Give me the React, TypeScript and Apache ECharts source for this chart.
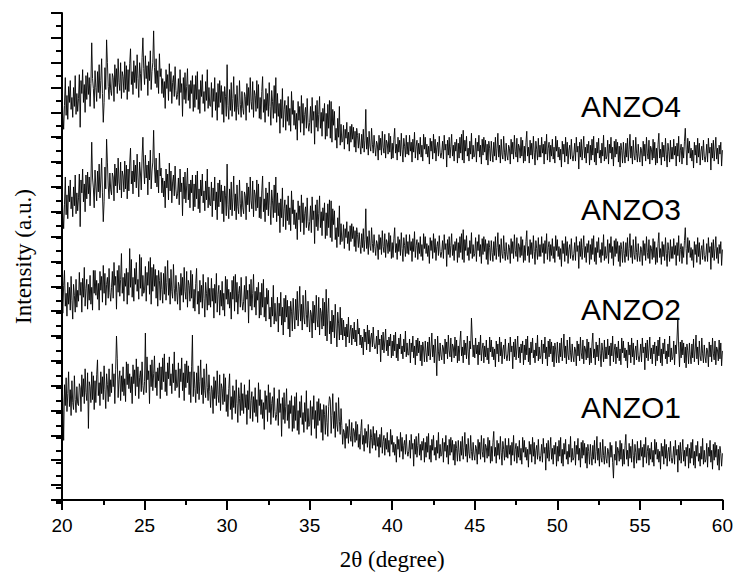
import { useEffect, useRef } from "react";
import * as echarts from "echarts";

// Scan grid of the diffractometer (2θ in degrees)
const scanStart = 20;
const scanStep = 0.05;

// x axis ticks
const xMin = 20;
const xMax = 60;
const xInterval = 5;

const seriesNames = ["ANZO1", "ANZO2", "ANZO3", "ANZO4"];
// vertical stacking offsets (a.u.) used to separate the patterns
const stackOffsets = [0, 100, 200, 300];

// Intensities (a.u.), one value per 0.05° from 20° to 60° (one row per degree)
const anzo1 = [
  117, 100, 60, 116, 95, 123, 89, 107, 129, 94, 111, 85, 120, 98, 91, 125, 101, 88, 114, 97,
  95, 117, 113, 89, 126, 104, 122, 97, 132, 108, 100, 128, 72, 119, 114, 98, 129, 101, 125, 91,
  120, 98, 126, 141, 105, 118, 95, 129, 107, 124, 101, 135, 111, 92, 127, 116, 99, 132, 104, 121,
  108, 137, 114, 127, 97, 131, 165, 142, 103, 121, 130, 100, 125, 109, 134, 105, 122, 99, 139, 116,
  137, 112, 127, 108, 124, 97, 136, 117, 131, 105, 142, 114, 134, 102, 123, 130, 109, 139, 115, 106,
  119, 168, 108, 144, 121, 130, 97, 136, 114, 141, 110, 127, 145, 113, 129, 105, 133, 120, 138, 102,
  134, 111, 143, 119, 147, 109, 129, 105, 138, 122, 144, 115, 127, 107, 137, 118, 149, 110, 131, 113,
  114, 138, 103, 132, 119, 143, 110, 128, 100, 137, 113, 140, 118, 135, 106, 129, 98, 134, 166, 104,
  129, 112, 98, 128, 107, 135, 101, 119, 141, 106, 123, 97, 132, 110, 103, 137, 113, 100, 126, 109,
  93, 115, 111, 87, 124, 102, 120, 95, 130, 106, 98, 126, 90, 117, 112, 96, 127, 99, 123, 89,
  106, 84, 112, 127, 91, 104, 81, 115, 93, 110, 87, 121, 97, 78, 113, 102, 85, 118, 90, 107,
  87, 116, 93, 106, 76, 110, 91, 121, 82, 100, 109, 79, 104, 88, 113, 84, 101, 78, 118, 95,
  111, 86, 101, 82, 98, 71, 110, 91, 105, 79, 116, 88, 108, 76, 97, 104, 83, 113, 89, 80,
  86, 102, 75, 111, 88, 97, 64, 103, 81, 108, 77, 94, 112, 80, 96, 72, 100, 87, 105, 69,
  95, 72, 104, 80, 108, 70, 90, 66, 99, 83, 105, 76, 88, 68, 98, 79, 110, 71, 92, 74,
  76, 100, 65, 94, 81, 105, 72, 90, 62, 99, 75, 102, 80, 97, 68, 91, 60, 96, 86, 66,
  95, 78, 64, 94, 104, 101, 67, 85, 107, 72, 89, 63, 98, 76, 69, 103, 79, 66, 92, 75,
  56, 71, 68, 52, 77, 62, 74, 57, 81, 65, 59, 78, 54, 72, 69, 58, 79, 60, 76, 53,
  66, 51, 70, 81, 56, 65, 49, 72, 57, 69, 53, 76, 60, 47, 71, 63, 52, 74, 55, 67,
  50, 70, 54, 63, 43, 66, 53, 73, 47, 59, 65, 45, 62, 51, 68, 48, 60, 44, 71, 56,
  65, 48, 58, 45, 56, 38, 64, 51, 61, 43, 68, 49, 63, 41, 55, 60, 46, 66, 50, 44,
  49, 60, 42, 66, 51, 57, 34, 61, 46, 64, 43, 55, 67, 45, 56, 40, 59, 50, 62, 38,
  58, 43, 64, 48, 67, 41, 55, 38, 61, 50, 65, 45, 53, 40, 60, 47, 68, 42, 56, 44,
  46, 62, 38, 58, 49, 65, 43, 55, 36, 61, 45, 63, 48, 60, 40, 56, 35, 59, 52, 39,
  60, 48, 39, 59, 45, 64, 41, 53, 68, 44, 56, 38, 62, 47, 42, 65, 49, 40, 58, 46,
  40, 55, 52, 36, 61, 46, 58, 41, 65, 49, 43, 62, 38, 56, 53, 42, 63, 44, 60, 37,
  54, 39, 58, 69, 44, 53, 37, 60, 45, 57, 41, 64, 48, 35, 59, 51, 40, 62, 43, 55,
  42, 62, 46, 55, 35, 58, 45, 65, 39, 51, 57, 37, 54, 43, 60, 40, 52, 36, 63, 48,
  60, 43, 53, 40, 51, 33, 59, 46, 56, 38, 63, 44, 58, 36, 50, 55, 41, 61, 45, 39,
  45, 56, 38, 62, 47, 53, 30, 57, 42, 60, 39, 51, 63, 41, 52, 36, 55, 46, 58, 34,
  54, 39, 60, 44, 63, 37, 51, 34, 57, 46, 61, 41, 49, 36, 56, 43, 64, 38, 52, 40,
  43, 59, 35, 55, 46, 62, 40, 52, 33, 58, 42, 60, 45, 57, 37, 53, 32, 56, 49, 36,
  56, 44, 35, 55, 41, 60, 37, 49, 64, 40, 52, 34, 58, 43, 38, 61, 45, 36, 54, 42,
  37, 52, 49, 33, 58, 43, 55, 38, 22, 46, 40, 59, 35, 53, 50, 39, 60, 41, 57, 34,
  51, 36, 55, 66, 41, 50, 34, 57, 42, 54, 38, 61, 45, 32, 56, 48, 37, 59, 40, 52,
  40, 60, 44, 53, 33, 56, 43, 63, 37, 49, 55, 35, 52, 41, 58, 38, 50, 34, 61, 46,
  58, 41, 51, 38, 49, 31, 57, 44, 54, 36, 61, 42, 56, 34, 48, 53, 39, 59, 43, 37,
  43, 54, 36, 60, 45, 51, 28, 55, 40, 58, 37, 49, 61, 39, 50, 34, 53, 44, 56, 32,
  52, 37, 58, 42, 61, 35, 49, 32, 55, 44, 59, 39, 47, 34, 54, 41, 62, 36, 50, 38,
  41, 57, 33, 53, 44, 60, 38, 50, 31, 56, 40, 58, 43, 55, 35, 51, 30, 54, 47, 34,
  47,
];

const anzo2 = [
  110, 88, 116, 131, 95, 108, 85, 119, 97, 114, 91, 125, 101, 82, 117, 106, 89, 122, 94, 111,
  100, 129, 106, 119, 89, 123, 104, 134, 95, 113, 122, 92, 117, 101, 126, 97, 114, 91, 131, 108,
  131, 106, 121, 102, 118, 91, 130, 111, 125, 99, 136, 108, 128, 96, 117, 124, 103, 133, 109, 100,
  114, 130, 103, 139, 116, 125, 92, 131, 109, 136, 105, 122, 148, 108, 124, 100, 128, 115, 133, 97,
  129, 106, 153, 114, 142, 104, 124, 100, 133, 117, 139, 110, 122, 102, 147, 113, 144, 105, 126, 108,
  111, 135, 100, 129, 116, 140, 107, 144, 97, 134, 110, 137, 115, 132, 103, 126, 95, 131, 121, 101,
  129, 112, 98, 128, 107, 135, 101, 119, 141, 106, 123, 97, 132, 110, 103, 137, 113, 100, 126, 109,
  97, 119, 115, 91, 128, 106, 124, 99, 134, 110, 102, 130, 94, 121, 116, 100, 131, 103, 127, 93,
  112, 90, 118, 133, 97, 110, 87, 121, 99, 116, 93, 127, 103, 84, 119, 108, 91, 124, 96, 113,
  94, 123, 100, 113, 83, 117, 98, 128, 89, 107, 116, 86, 111, 95, 120, 91, 108, 85, 125, 102,
  122, 97, 112, 93, 109, 82, 121, 102, 125, 90, 127, 99, 119, 87, 108, 115, 94, 124, 100, 91,
  100, 116, 89, 125, 102, 111, 78, 117, 95, 122, 91, 108, 127, 94, 110, 86, 114, 101, 119, 83,
  109, 86, 118, 94, 122, 84, 104, 80, 113, 97, 111, 82, 94, 74, 104, 85, 116, 77, 98, 80,
  80, 104, 69, 98, 85, 109, 76, 94, 66, 103, 79, 106, 84, 101, 72, 95, 64, 100, 90, 70,
  103, 86, 72, 102, 81, 110, 75, 93, 115, 80, 97, 71, 106, 84, 77, 111, 87, 74, 100, 83,
  69, 91, 87, 63, 100, 78, 96, 71, 106, 82, 74, 104, 66, 93, 88, 72, 103, 75, 99, 65,
  112, 60, 88, 103, 67, 80, 57, 91, 69, 86, 63, 97, 73, 54, 89, 78, 61, 94, 66, 83,
  61, 81, 65, 74, 54, 77, 64, 84, 58, 70, 76, 56, 73, 62, 79, 59, 71, 55, 82, 67,
  73, 56, 66, 53, 64, 46, 72, 59, 69, 51, 76, 57, 71, 49, 63, 68, 54, 74, 58, 52,
  54, 65, 47, 71, 56, 62, 39, 66, 51, 69, 48, 60, 72, 50, 61, 45, 64, 55, 67, 43,
  60, 45, 66, 50, 69, 43, 57, 40, 63, 52, 67, 47, 55, 42, 62, 49, 70, 44, 58, 46,
  46, 62, 38, 58, 49, 65, 43, 55, 36, 61, 45, 63, 48, 60, 40, 56, 35, 59, 52, 39,
  60, 48, 39, 59, 45, 64, 41, 53, 68, 44, 56, 38, 62, 47, 25, 65, 49, 40, 58, 46,
  41, 56, 53, 37, 62, 47, 59, 42, 66, 50, 44, 63, 39, 57, 54, 43, 64, 45, 61, 38,
  55, 40, 59, 70, 45, 54, 38, 61, 46, 58, 42, 65, 49, 36, 60, 52, 83, 63, 44, 56,
  43, 63, 47, 56, 36, 59, 46, 66, 40, 52, 58, 38, 55, 44, 61, 41, 53, 37, 64, 49,
  61, 44, 54, 41, 52, 34, 60, 47, 57, 39, 64, 45, 59, 37, 51, 56, 42, 62, 46, 40,
  47, 58, 40, 64, 49, 55, 32, 59, 44, 62, 41, 53, 65, 43, 54, 38, 57, 48, 60, 36,
  56, 41, 62, 46, 65, 39, 53, 36, 59, 48, 63, 43, 51, 38, 58, 45, 66, 40, 54, 42,
  45, 61, 37, 57, 48, 64, 42, 54, 35, 60, 44, 62, 47, 59, 39, 55, 34, 58, 51, 38,
  59, 47, 38, 58, 44, 63, 40, 52, 67, 43, 55, 37, 61, 46, 41, 64, 48, 39, 57, 45,
  39, 54, 51, 35, 60, 45, 57, 40, 64, 48, 42, 61, 37, 55, 52, 41, 62, 43, 59, 36,
  53, 38, 57, 68, 43, 52, 36, 59, 44, 56, 40, 63, 47, 34, 58, 50, 39, 61, 42, 54,
  42, 62, 46, 55, 35, 58, 45, 65, 39, 51, 57, 37, 54, 43, 60, 40, 52, 36, 63, 48,
  60, 43, 53, 40, 51, 33, 59, 46, 56, 38, 63, 44, 58, 36, 50, 55, 41, 61, 45, 39,
  46, 57, 39, 63, 48, 54, 31, 58, 43, 61, 40, 52, 64, 42, 53, 37, 56, 47, 59, 35,
  55, 40, 61, 45, 64, 38, 52, 35, 58, 47, 62, 42, 50, 37, 57, 44, 65, 39, 53, 41,
  44, 60, 36, 56, 47, 63, 83, 53, 34, 59, 43, 61, 46, 58, 38, 54, 33, 57, 50, 37,
  58, 46, 37, 57, 43, 62, 39, 51, 66, 42, 54, 36, 60, 45, 40, 63, 47, 38, 56, 44,
  38, 53, 50, 34, 59, 44, 56, 39, 63, 47, 41, 60, 36, 54, 51, 40, 61, 42, 58, 35,
  50,
];

const anzo4 = [
  112, 89, 73, 97, 125, 87, 107, 83, 116, 100, 122, 93, 105, 85, 115, 96, 127, 88, 109, 91,
  104, 128, 75, 122, 109, 133, 100, 118, 90, 127, 103, 130, 108, 125, 96, 119, 160, 124, 114, 94,
  132, 115, 101, 131, 110, 138, 104, 122, 144, 109, 80, 100, 135, 113, 163, 140, 116, 103, 129, 112,
  107, 129, 125, 101, 138, 116, 134, 109, 144, 120, 112, 140, 104, 131, 126, 110, 141, 113, 137, 103,
  133, 111, 139, 154, 118, 131, 108, 142, 120, 137, 114, 148, 124, 105, 140, 129, 112, 145, 165, 134,
  118, 147, 124, 137, 107, 141, 122, 152, 113, 131, 140, 172, 135, 119, 144, 115, 132, 109, 149, 126,
  134, 109, 124, 105, 121, 94, 133, 114, 128, 102, 139, 111, 131, 99, 120, 127, 106, 136, 112, 103,
  108, 124, 97, 133, 110, 119, 86, 125, 103, 130, 99, 116, 134, 102, 118, 94, 122, 109, 127, 91,
  118, 95, 127, 103, 131, 93, 113, 89, 122, 106, 128, 99, 111, 91, 121, 102, 133, 94, 115, 97,
  96, 120, 85, 114, 101, 125, 92, 110, 82, 119, 95, 122, 100, 117, 88, 111, 80, 116, 106, 86,
  138, 97, 83, 113, 92, 120, 86, 104, 126, 91, 108, 82, 117, 95, 88, 122, 98, 85, 111, 94,
  88, 110, 106, 82, 119, 97, 115, 90, 125, 101, 93, 121, 85, 112, 107, 91, 122, 94, 118, 84,
  105, 83, 111, 126, 90, 103, 80, 114, 92, 109, 86, 120, 96, 77, 112, 101, 84, 117, 89, 125,
  80, 109, 86, 99, 69, 103, 84, 114, 75, 93, 102, 72, 97, 81, 106, 77, 94, 71, 111, 88,
  102, 77, 92, 73, 89, 62, 101, 82, 96, 70, 107, 79, 99, 67, 88, 95, 74, 104, 80, 71,
  80, 96, 69, 105, 82, 91, 58, 97, 75, 102, 71, 88, 106, 74, 90, 66, 94, 81, 99, 63,
  89, 66, 98, 74, 102, 64, 101, 60, 93, 77, 91, 62, 74, 54, 84, 65, 96, 57, 78, 60,
  61, 77, 53, 73, 64, 80, 58, 70, 51, 76, 60, 78, 63, 75, 55, 71, 50, 74, 67, 54,
  69, 57, 48, 68, 54, 73, 50, 62, 93, 53, 65, 47, 71, 56, 51, 74, 58, 49, 67, 55,
  46, 61, 58, 42, 67, 52, 64, 47, 71, 55, 49, 68, 44, 62, 59, 48, 69, 50, 66, 43,
  59, 44, 63, 74, 49, 58, 42, 65, 50, 62, 46, 69, 53, 40, 64, 56, 45, 67, 48, 60,
  47, 67, 51, 60, 40, 63, 50, 70, 44, 56, 62, 42, 59, 48, 65, 45, 57, 41, 68, 53,
  65, 48, 58, 45, 56, 38, 64, 51, 61, 43, 68, 49, 63, 41, 55, 60, 46, 66, 50, 44,
  50, 61, 43, 67, 52, 58, 35, 62, 47, 65, 44, 56, 68, 46, 57, 41, 60, 51, 63, 39,
  59, 44, 65, 49, 68, 42, 72, 39, 62, 51, 66, 46, 54, 41, 61, 48, 69, 43, 57, 45,
  48, 64, 40, 60, 51, 67, 45, 57, 38, 63, 47, 65, 50, 62, 42, 58, 37, 61, 54, 41,
  61, 49, 40, 60, 46, 65, 42, 54, 69, 45, 57, 39, 63, 48, 43, 66, 50, 41, 59, 47,
  42, 57, 54, 38, 63, 48, 60, 43, 67, 51, 45, 64, 40, 58, 55, 44, 65, 46, 62, 39,
  56, 41, 60, 71, 46, 55, 39, 62, 47, 59, 43, 66, 50, 37, 61, 53, 42, 64, 45, 57,
  45, 65, 49, 58, 38, 61, 48, 68, 42, 54, 60, 40, 57, 46, 63, 43, 55, 39, 66, 51,
  62, 45, 55, 42, 53, 35, 61, 48, 58, 40, 65, 46, 60, 38, 52, 57, 43, 63, 47, 41,
  48, 59, 41, 65, 50, 56, 33, 60, 45, 63, 42, 54, 66, 44, 55, 39, 58, 49, 61, 37,
  57, 42, 63, 47, 66, 40, 54, 37, 60, 49, 64, 44, 52, 39, 59, 46, 67, 41, 55, 43,
  46, 62, 38, 58, 49, 65, 43, 55, 36, 61, 45, 63, 48, 60, 40, 56, 35, 59, 52, 39,
  60, 48, 39, 59, 45, 64, 41, 53, 68, 44, 56, 38, 62, 47, 42, 65, 49, 40, 58, 46,
  40, 55, 52, 36, 61, 46, 58, 41, 65, 49, 43, 62, 38, 56, 53, 42, 63, 44, 60, 37,
  54, 39, 58, 69, 44, 53, 37, 60, 45, 57, 41, 64, 48, 35, 59, 51, 40, 62, 43, 55,
  43, 63, 47, 56, 36, 59, 46, 66, 40, 52, 58, 38, 55, 44, 61, 74, 53, 37, 64, 49,
  61, 44, 54, 41, 52, 34, 60, 47, 57, 39, 64, 45, 59, 37, 51, 56, 42, 62, 46, 40,
  47, 58, 40, 64, 49, 55, 32, 59, 44, 62, 41, 53, 65, 43, 54, 38, 57, 48, 60, 36,
  52,
];

// ANZO3 shows the very same pattern as ANZO4 in the reference
const anzo3 = anzo4.slice();

const rawSeries = [anzo1, anzo2, anzo3, anzo4];

export default function App() {
  const ref = useRef<HTMLDivElement>(null);

  useEffect(() => {
    if (!ref.current) return;
    const chart = echarts.init(ref.current, null, { renderer: "svg" });

    const sansFont = '"Liberation Sans", Arial, sans-serif';
    const serifFont = '"Liberation Serif", "Times New Roman", serif';
    const axisStroke = { color: "#000", width: 2 };

    const toPairs = (vals: number[], offset: number) =>
      vals.map((v, i) => [Math.round((scanStart + i * scanStep) * 100) / 100, v + offset]);

    const gridRect = { left: 62, top: 13, width: 663, height: 490 };
    const labelY = [407, 309, 209, 106];

    chart.setOption({
      animation: false,
      backgroundColor: "#ffffff",
      grid: [{ ...gridRect }, { ...gridRect }],
      xAxis: [
        {
          type: "value",
          gridIndex: 0,
          min: xMin,
          max: xMax,
          interval: xInterval,
          axisLine: { show: true, onZero: false, lineStyle: axisStroke },
          axisTick: { show: true, length: 10, lineStyle: axisStroke },
          minorTick: { show: true, splitNumber: 2, length: 5, lineStyle: axisStroke },
          splitLine: { show: false },
          minorSplitLine: { show: false },
          axisLabel: { color: "#000", fontSize: 19, fontFamily: sansFont, margin: 16 },
          name: "2θ (degree)",
          nameLocation: "middle",
          nameGap: 48,
          nameTextStyle: { color: "#000", fontSize: 23, fontFamily: serifFont },
        },
        { type: "value", gridIndex: 1, min: xMin, max: xMax, show: false },
      ],
      yAxis: [
        {
          type: "value",
          gridIndex: 0,
          position: "left",
          inverse: true,
          min: 0,
          max: 19.6,
          interval: 1,
          axisLine: { show: true, onZero: false, lineStyle: axisStroke },
          axisTick: { show: true, length: 11, lineStyle: axisStroke },
          axisLabel: { show: false },
          splitLine: { show: false },
          name: "Intensity (a.u.)",
          nameLocation: "middle",
          nameGap: 27,
          nameRotate: 90,
          nameTextStyle: { color: "#000", fontSize: 23, fontFamily: serifFont },
        },
        {
          type: "value",
          gridIndex: 0,
          position: "right",
          show: false,
          min: 0,
          max: 490,
        },
        {
          type: "value",
          gridIndex: 1,
          position: "left",
          inverse: true,
          min: 0,
          max: 19.6,
          interval: 0.5,
          axisLine: { show: false, onZero: false },
          axisTick: { show: true, length: 6, lineStyle: axisStroke },
          axisLabel: { show: false },
          splitLine: { show: false },
        },
      ],
      series: rawSeries.map((vals, i) => ({
        type: "line",
        name: seriesNames[i],
        xAxisIndex: 0,
        yAxisIndex: 1,
        data: toPairs(vals, stackOffsets[i]),
        symbol: "none",
        showSymbol: false,
        silent: true,
        lineStyle: { color: "#000", width: 0.9 },
      })),
      graphic: seriesNames.map((name, i) => ({
        type: "text",
        x: 631,
        y: labelY[i],
        silent: true,
        style: {
          text: name,
          fill: "#000",
          font: `30px ${sansFont}`,
          textAlign: "center",
          textVerticalAlign: "middle",
        },
      })),
    });

    return () => chart.dispose();
  }, []);

  return (
    <div
      ref={ref}
      style={{ position: "fixed", left: 0, top: 0, width: 736, height: 576 }}
    />
  );
}
